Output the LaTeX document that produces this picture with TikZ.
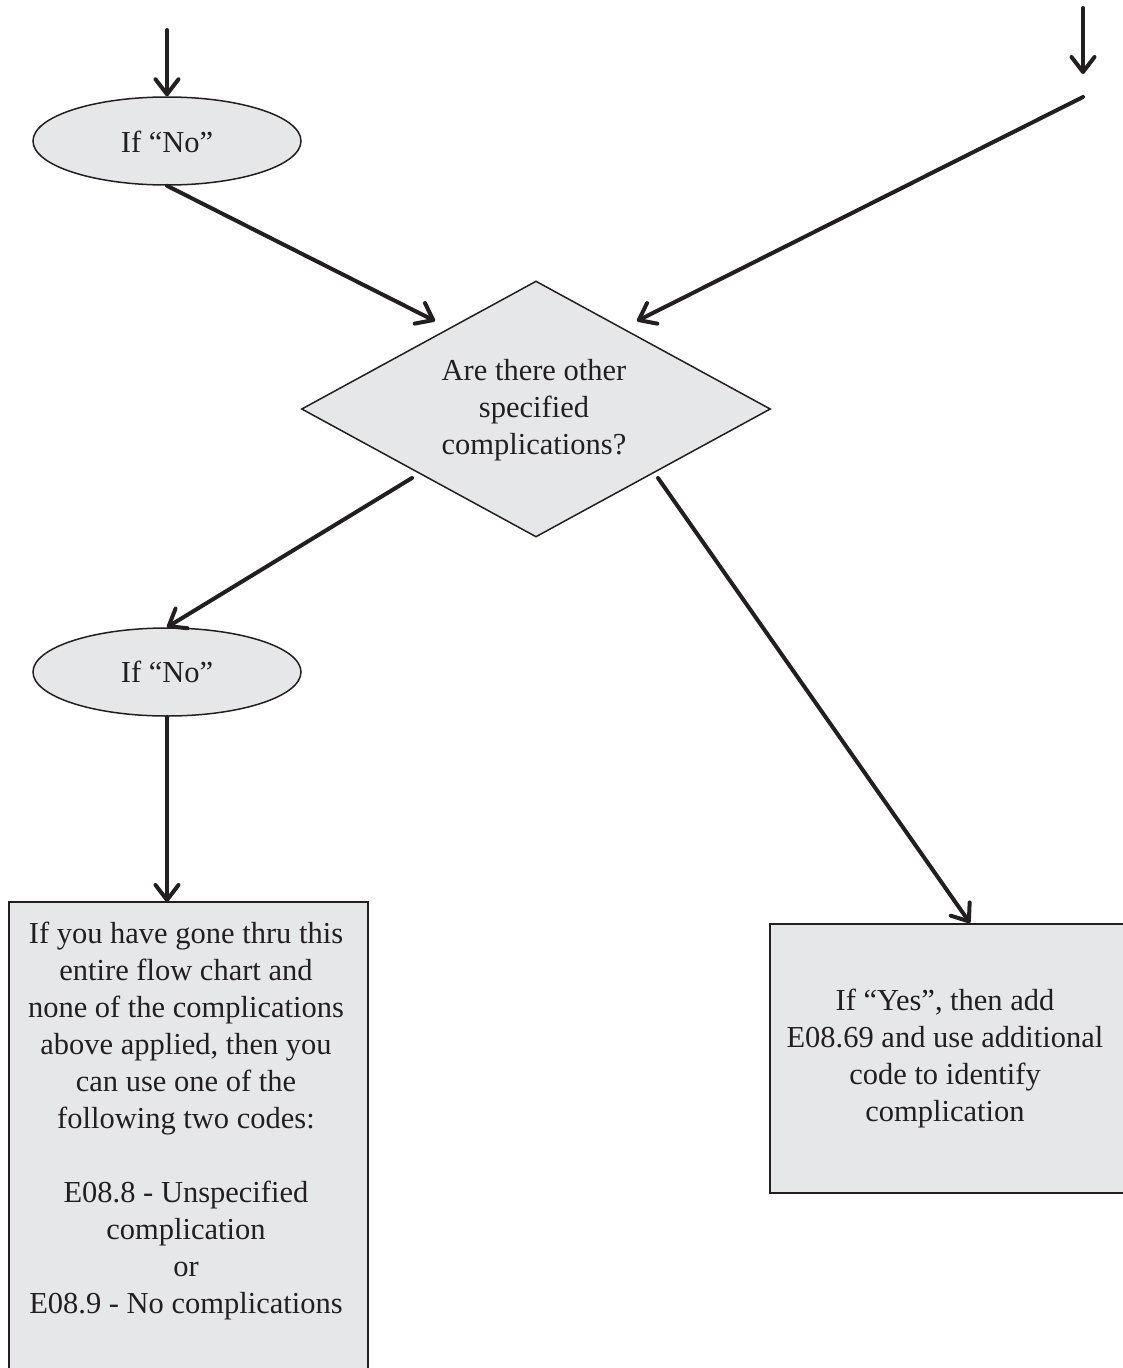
\documentclass[tikz,border=0pt]{standalone}
\usepackage{fontspec}
\setmainfont{Liberation Serif}
\usetikzlibrary{shapes.geometric,arrows.meta}
\definecolor{ink}{HTML}{231F20}
\definecolor{panel}{HTML}{E6E7E8}
\begin{document}
\begin{tikzpicture}[x=1pt,y=-1pt,
  every node/.style={text=ink,font=\fontsize{30.5}{37}\selectfont},
  shapeline/.style={draw=ink,fill=panel,line width=1.5pt},
  oval/.style={shapeline,ellipse,inner sep=0pt,minimum width=268pt,minimum height=88pt},
  decision/.style={shapeline,diamond,inner sep=0pt,minimum width=469pt,minimum height=256pt},
  textblock/.style={inner sep=0pt,align=center},
  flow/.style={draw=ink,line width=4pt,line cap=round,
    -{Straight Barb[round,length=15pt,width=23pt]}}]
\useasboundingbox (0,0) rectangle (1122,1368);

% shapes
\node[oval] (noA) at (167,141) {};
\node[anchor=base] (noAtxt) at (167,152) {If “No”};
\node[decision] (dec) at (536,409) {};
\node[textblock,anchor=north] (dectxt) at (534,359) {Are there other\\specified\\complications?};
\node[oval] (noB) at (167,672) {};
\node[anchor=base] (noBtxt) at (167,682) {If “No”};

\path[shapeline] (9,902) rectangle (368,1385);
\coordinate (boxL) at (167,902);
\node[textblock,anchor=north] (boxLtxt) at (186,922)
  {If you have gone thru this\\entire flow chart and\\none of the complications\\above applied, then you\\can use one of the\\following two codes:\\[37pt]E08.8 - Unspecified\\complication\\or\\E08.9 - No complications};

\path[shapeline] (770,924) rectangle (1130,1193);
\coordinate (boxR) at (970,923);
\node[textblock,anchor=north] (boxRtxt) at (945,989)
  {If “Yes”, then add\\E08.69 and use additional\\code to identify\\complication};

% free ends and arrow tips
\coordinate (inA) at (167,30);
\coordinate (inB) at (1083,8);
\coordinate (inBtip) at (1083,74);
\coordinate (inBstart) at (1083,97);
\coordinate (tipL) at (435,321);
\coordinate (tipR) at (637,321);
\coordinate (outL) at (412,478);
\coordinate (outR) at (658,478);

% connectors
\draw[flow] (inA) -- (noA.north);
\draw[flow] (inB) -- (inBtip);
\draw[flow] (noA.south) -- (tipL);
\draw[flow] (inBstart) -- (tipR);
\draw[flow] (outL) -- (noB.north);
\draw[flow] (outR) -- (boxR);
\draw[flow] (noB.south) -- (boxL);
\end{tikzpicture}
\end{document}
